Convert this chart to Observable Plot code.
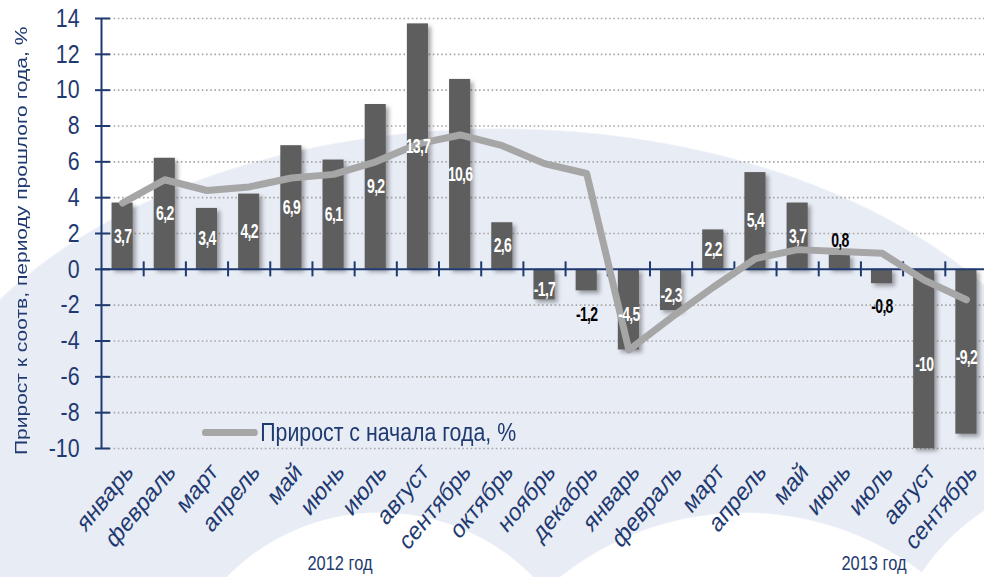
<!DOCTYPE html>
<html><head><meta charset="utf-8">
<script src="https://cdn.jsdelivr.net/npm/d3@7"></script>
<script src="https://cdn.jsdelivr.net/npm/@observablehq/plot@0.6"></script>
<style>
html,body{margin:0;padding:0;background:#fff;}
#wrap{position:relative;width:984px;height:577px;overflow:hidden;
 background:
  radial-gradient(circle 215px at 380px 727px,#fff 99.5%,rgba(255,255,255,0) 100%),
  radial-gradient(circle 296px at 744px 808px,#fff 99.5%,rgba(255,255,255,0) 100%),
  radial-gradient(circle 228px at 1110px 700px,#fff 99.5%,rgba(255,255,255,0) 100%),
  radial-gradient(ellipse 600px 380px at 500px 508px,#e8ecf5 99.6%,rgba(232,236,245,0) 100%),
  #fff;}
#wrap svg{position:absolute;left:0;top:0;}
g[aria-label="rect"]{filter:drop-shadow(3px 3px 2px rgba(0,0,0,0.35));}
.ylab{position:absolute;left:9px;top:0;height:482px;width:24px;writing-mode:vertical-rl;transform:rotate(180deg) scaleX(0.82);
 text-align:center;font:21px "Liberation Sans",Arial,sans-serif;color:#1f3a70;line-height:24px;white-space:nowrap;}
.legend{position:absolute;left:202px;top:416px;height:32px;display:flex;align-items:center;transform-origin:0 50%;transform:scaleX(0.82);
 font:26px "Liberation Sans",Arial,sans-serif;color:#1f3a70;white-space:nowrap;}
.legend span.sw{display:inline-block;width:68px;height:7px;border-radius:4px;background:#a6a6a6;margin-right:3px;}
.year{position:absolute;top:552px;transform:translateX(-50%) scaleX(0.82);font:20px "Liberation Sans",Arial,sans-serif;color:#1f3a70;white-space:nowrap;}
</style></head><body>
<div id="wrap"></div>
<script>
// ---- data ----
const months = ["январь","февраль","март","апрель","май","июнь","июль","август","сентябрь","октябрь","ноябрь","декабрь",
                "январь","февраль","март","апрель","май","июнь","июль","август","сентябрь"];
const yoy = [3.7,6.2,3.4,4.2,6.9,6.1,9.2,13.7,10.6,2.6,-1.7,-1.2,-4.5,-2.3,2.2,5.4,3.7,0.8,-0.8,-10,-9.2];
const ytd = [3.7,5.0,4.4,4.6,5.1,5.3,6.0,7.0,7.5,6.9,5.9,5.35,-4.5,-2.7,-1.0,0.6,1.1,1.0,0.9,-0.6,-1.7];
const outsideLabels = [11,17,18];
const yTicks = [-10,-8,-6,-4,-2,0,2,4,6,8,10,12,14];
const years = ["2012 год","2013 год"];
const legendLabel = "Прирост с начала года, %";
const yLabel = "Прирост к соотв, периоду прошлого года, %";

const navy = "#1f3a70";
const idx = months.map((_, i) => i);
const fmt = v => String(v).replace(".", ",");

const labelY = i => {
  const v = yoy[i];
  if (outsideLabels.includes(i)) return v > 0 ? v + 0.8 : v - 1.3;
  return v > 0 ? v / 2 : v / 2 - 0.3;
};

const chart = Plot.plot({
  width: 984, height: 577,
  marginTop: 18, marginBottom: 129, marginLeft: 101, marginRight: -3,
  style: {background: "transparent", fontFamily: '"Liberation Sans",Arial,sans-serif', overflow: "visible"},
  x: {type: "linear", domain: [-0.5, months.length - 0.5]},
  y: {domain: [-10, 14]},
  marks: [
    Plot.ruleY(yTicks.filter(t => t !== 0), {stroke: "#a8a8a8", strokeWidth: 1.6, strokeDasharray: "1.6,2.6"}),
    Plot.rectY(idx, {x1: i => i - 0.25, x2: i => i + 0.25, y1: 0, y2: i => yoy[i], fill: "#5e5e5e"}),
    Plot.ruleY([0], {stroke: navy, strokeWidth: 2}),
    Plot.ruleX(idx.slice(1).map(i => i - 0.5), {y1: -0.42, y2: 0.42, stroke: navy, strokeWidth: 2}),
    Plot.ruleX([-0.5], {y1: -10, y2: 14, stroke: navy, strokeWidth: 2}),
    Plot.line(idx, {x: i => i, y: i => ytd[i], stroke: "#a6a6a6", strokeWidth: 7, strokeLinejoin: "round", strokeLinecap: "round"}),
    Plot.text(idx, {x: i => i, y: labelY, text: i => fmt(yoy[i]),
      fill: i => outsideLabels.includes(i) ? "#000" : "#fff",
      fontSize: 20, fontWeight: "bold"}),
    Plot.axisY({ticks: yTicks, tickFormat: d => String(d), tickSize: 15, dx: 9, tickPadding: 16, stroke: navy, strokeWidth: 2,
      fill: navy, fontSize: 26, label: null}),
    Plot.axisX({ticks: idx, tickFormat: i => months[i], tickRotate: -50.6, tickSize: 0, tickPadding: 19,
      fill: navy, fontSize: 26, label: null, dx: 7})
  ]
});
const wrap = document.getElementById("wrap");
wrap.appendChild(chart);

// horizontal squeeze of the condensed chart fonts
function squeeze(sel, k, extraSpacing) {
  chart.querySelectorAll(sel).forEach(t => {
    if (extraSpacing) t.setAttribute("letter-spacing", extraSpacing);
    const len = t.getComputedTextLength();
    t.setAttribute("textLength", (len * k).toFixed(2));
    t.setAttribute("lengthAdjust", "spacingAndGlyphs");
  });
}
squeeze('g[aria-label="y-axis tick label"] text', 0.82);
squeeze('g[aria-label="text"] text', 0.7, "-1");
// month labels: rotation followed (in glyph space) by a slight skew and scale,
// equivalent to rotating 45° and squeezing horizontally as in the original
chart.querySelectorAll('g[aria-label="x-axis tick label"] text').forEach(t => {
  const tr = t.getAttribute("transform") || "";
  t.setAttribute("transform", tr + " skewX(-11.3) scale(0.9145,0.896)");
});

const yl = document.createElement("div"); yl.className = "ylab"; yl.textContent = yLabel; wrap.appendChild(yl);
const lg = document.createElement("div"); lg.className = "legend";
lg.innerHTML = '<span class="sw"></span>'; lg.appendChild(document.createTextNode(legendLabel)); wrap.appendChild(lg);
[[years[0], 340], [years[1], 874]].forEach(([t, x]) => {
  const d = document.createElement("div"); d.className = "year"; d.style.left = x + "px"; d.textContent = t; wrap.appendChild(d);
});
</script>
</body></html>
